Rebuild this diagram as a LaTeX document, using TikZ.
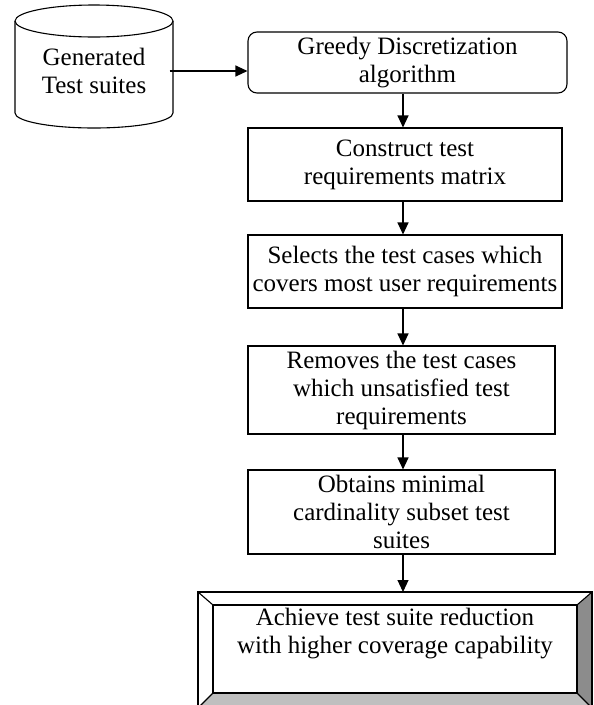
\documentclass[tikz,border=0pt]{standalone}
\usepackage{fontspec}
\setmainfont{Liberation Serif}
\usetikzlibrary{arrows.meta}
\begin{document}
\begin{tikzpicture}[x=1pt,y=-1pt,
  line width=1.1pt,
  txt/.style={font=\fontsize{25}{28}\selectfont, align=center, inner sep=1pt},
  stepbox/.style={draw, rectangle, txt},
  flow/.style={-{Triangle[length=12pt,width=11pt]}}]
\useasboundingbox (0,0) rectangle (594,705);
\begin{scope}
\clip (0,0) rectangle (594,705);

% data store: cylinder
\draw[fill=white] (15,21) -- (15,113) arc[start angle=180,end angle=0,x radius=79,y radius=15]
  -- (173,21);
\draw (94,21) ellipse[x radius=79,y radius=16];
\node[txt, minimum width=150, minimum height=70] (gen) at (94,71) {Generated\\Test suites};

% process boxes
\node[stepbox, rounded corners=9pt, minimum width=319, minimum height=61] (b1) at (407.5,62.5)
  {Greedy Discretization\\algorithm};
\node[stepbox, minimum width=314, minimum height=73] (b2) at (405,164.5)
  {Construct test\\requirements matrix};
\node[stepbox, minimum width=314, minimum height=73] (b3) at (405,271.5)
  {Selects the test cases which\\covers most user requirements};
\node[stepbox, minimum width=307, minimum height=88] (b4) at (401.5,390)
  {Removes the test cases\\which unsatisfied test\\requirements};
\node[stepbox, minimum width=307, minimum height=84] (b5) at (401.5,512)
  {Obtains minimal\\cardinality subset test\\suites};

% bevelled terminal box
\coordinate (o1) at (198,592); \coordinate (o2) at (592,592);
\coordinate (o3) at (592,708); \coordinate (o4) at (198,708);
\coordinate (i1) at (213,605); \coordinate (i2) at (577,605);
\coordinate (i3) at (577,693); \coordinate (i4) at (213,693);
\fill[white] (o1) -- (o2) -- (i2) -- (i1) -- cycle;
\fill[white] (o1) -- (i1) -- (i4) -- (o4) -- cycle;
\fill[black!25] (o4) -- (i4) -- (i3) -- (o3) -- cycle;
\fill[black!45] (o2) -- (o3) -- (i3) -- (i2) -- cycle;
\draw (o1) rectangle (o3);
\draw (i1) rectangle (i3);
\draw (o1) -- (i1) (o2) -- (i2) (o3) -- (i3) (o4) -- (i4);
\node[txt, anchor=north] (b6) at (395,607)
  {Achieve test suite reduction\\with higher coverage capability};
\end{scope}

% connectors
\coordinate (ax) at (403,0);
\coordinate (top6) at (403,592);
\draw[flow] (gen.east) -- (b1.west |- gen.east);
\draw[flow] (b1.south -| ax) -- (b2.north -| ax);
\draw[flow] (b2.south -| ax) -- (b3.north -| ax);
\draw[flow] (b3.south -| ax) -- (b4.north -| ax);
\draw[flow] (b4.south -| ax) -- (b5.north -| ax);
\draw[flow] (b5.south -| ax) -- (top6);
\end{tikzpicture}
\end{document}
